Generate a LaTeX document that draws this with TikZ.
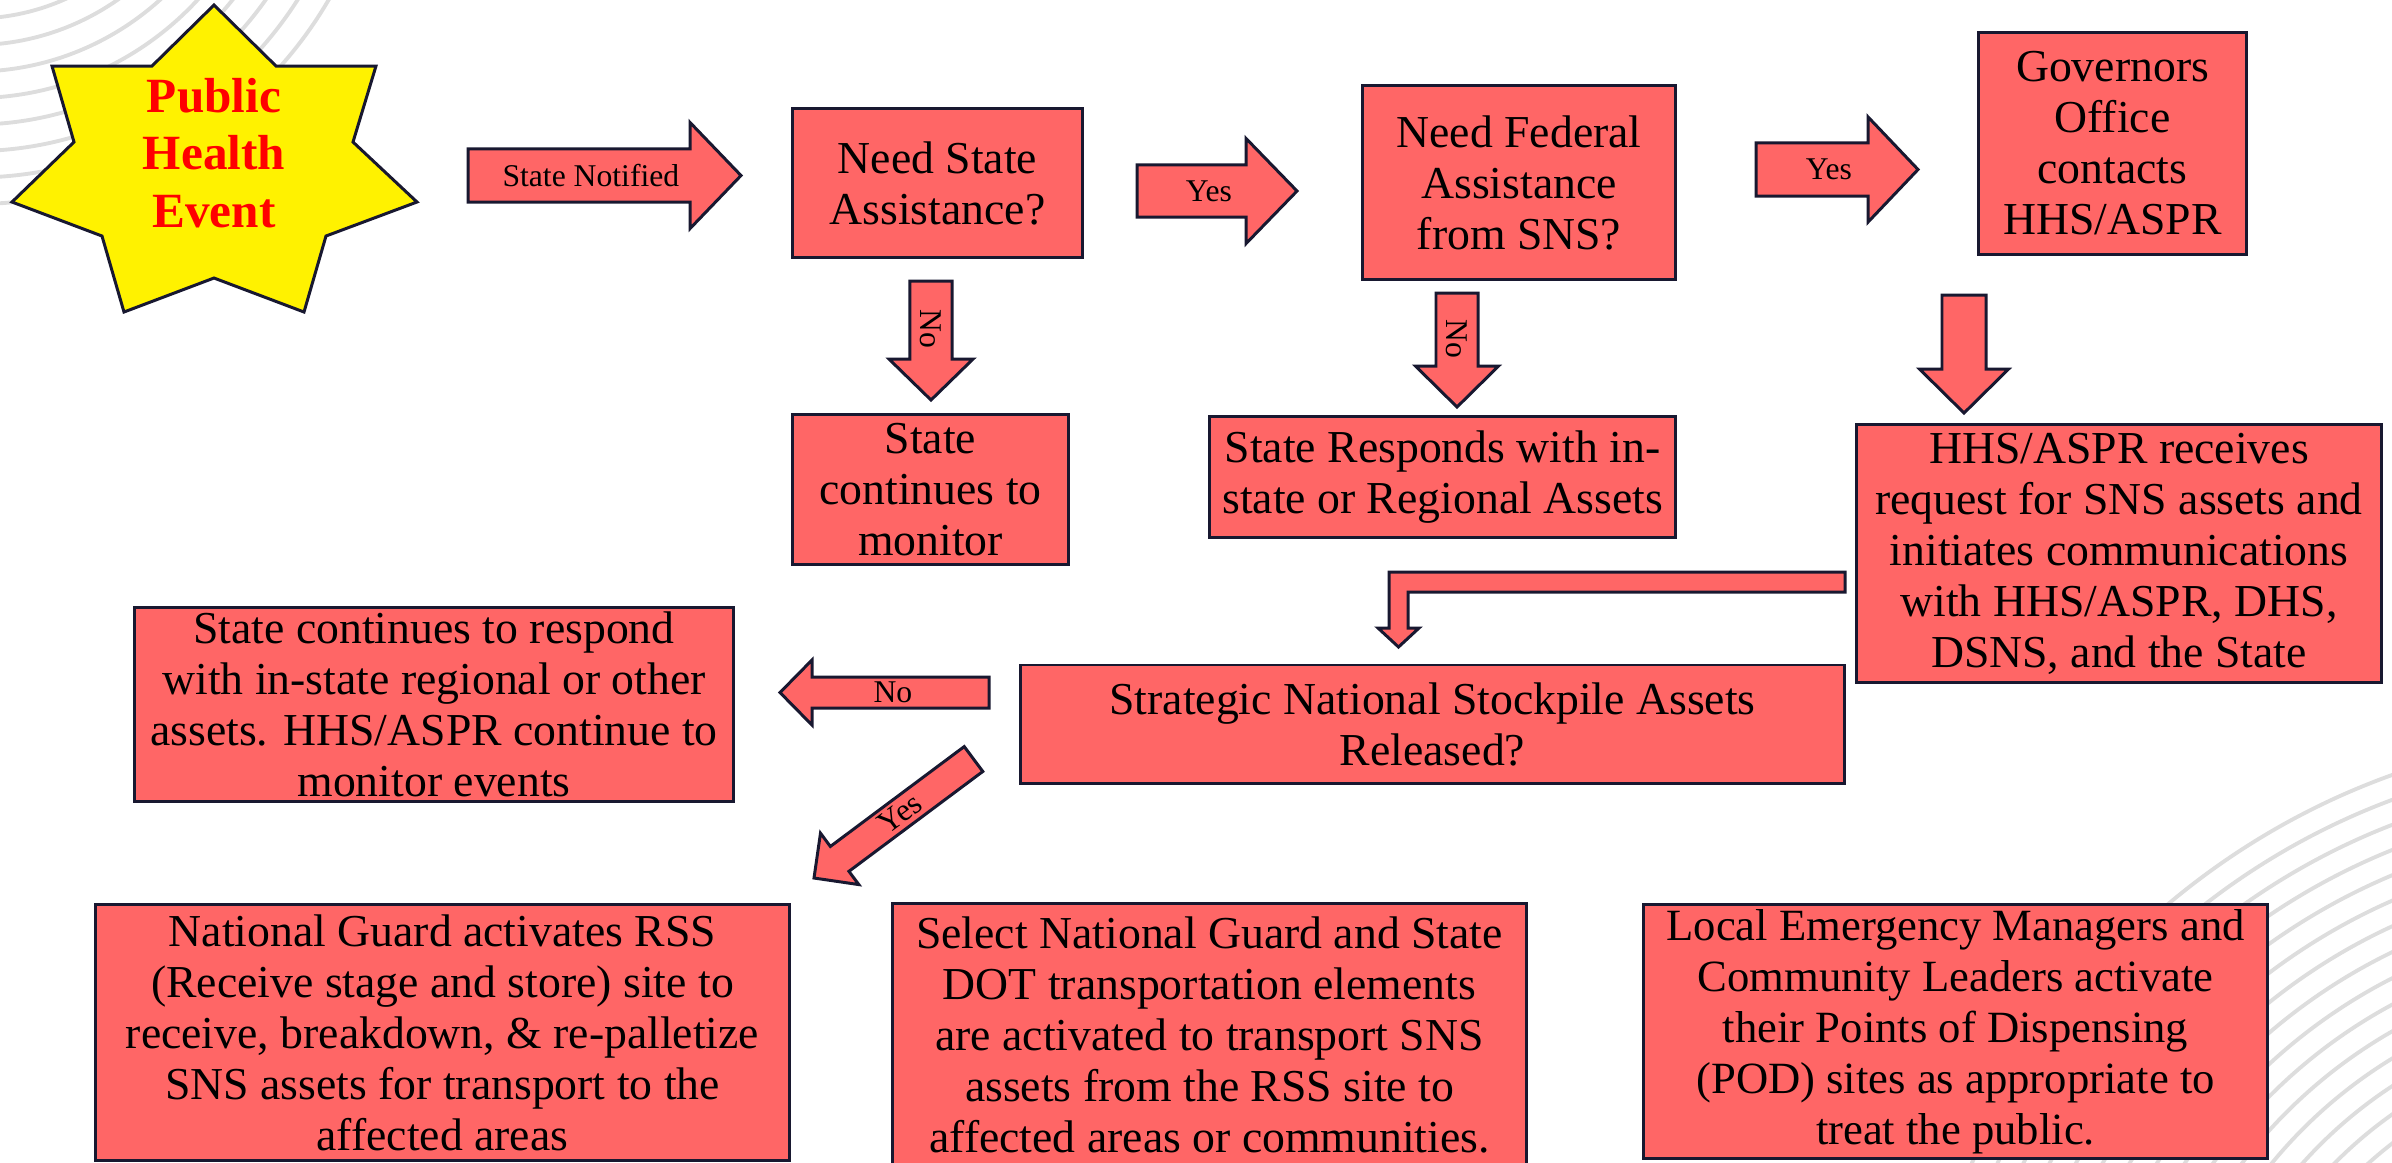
\documentclass[tikz,border=0pt]{standalone}
\usepackage{fontspec}
\setmainfont{Liberation Serif}
\usetikzlibrary{calc}

\definecolor{boxred}{RGB}{255,102,102}
\definecolor{boxedge}{RGB}{24,24,48}
\definecolor{arcgray}{RGB}{221,221,221}
\definecolor{starred}{RGB}{255,0,0}

\tikzset{
  flowbox/.style={draw=boxedge, fill=boxred, line width=0.85pt, align=center,
    inner sep=0pt, font=\fontsize{13}{14.5}\selectfont},
  blockarr/.style={draw=boxedge, fill=boxred, line width=0.85pt, line join=miter},
  arrlabel/.style={font=\fontsize{9}{10}\selectfont, inner sep=0pt},
  bgarc/.style={draw=arcgray, line width=1.1pt},
}

% block arrow: start, tip, shaft width, head width, head length (px)
\newcommand{\blockarrow}[5]{%
  \coordinate (bah) at ($(#2)!#5*0.01cm!(#1)$);
  \filldraw[blockarr] ($(#1)!#3*0.005cm!90:(#2)$)
    -- ($(bah)!#3*0.005cm!90:(#2)$)
    -- ($(bah)!#4*0.005cm!90:(#2)$)
    -- (#2)
    -- ($(bah)!#4*0.005cm!-90:(#2)$)
    -- ($(bah)!#3*0.005cm!-90:(#2)$)
    -- ($(#1)!#3*0.005cm!-90:(#2)$) -- cycle;}

\begin{document}
\begin{tikzpicture}[x=0.01cm, y=-0.01cm]
\useasboundingbox (0,0) rectangle (2392,1162);

% background arcs
\begin{scope}
  \clip (0,0) rectangle (2392,1162);
  \foreach \k [evaluate=\k as \r using 225.4+26.5*\k] in {0,...,7}
    \draw[bgarc] (-26.6,-206.8) circle[radius=\r];
  \foreach \k [evaluate=\k as \r using 406+23.36*\k] in {0,...,14}
    \draw[bgarc] (2640,1465) circle[radius=\r];
\end{scope}

% start event
\filldraw[draw=boxedge, fill=yellow, line width=0.85pt]
  (214,5) -- (276,66) -- (376,66) -- (353,142) -- (417,202) -- (326,236)
  -- (304,312) -- (214,278) -- (124,312) -- (102,236) -- (12,202)
  -- (74,142) -- (52,66) -- (152,66) -- cycle;
\node[font=\fontsize{14}{16.3}\selectfont\bfseries, text=starred, align=center, inner sep=0pt]
  (event) at (214,153) {Public\\Health\\Event};

% boxes
\node[flowbox, minimum width=2.89cm, minimum height=1.48cm] (needstate) at (937.5,183)
  {Need State\\Assistance?};
\node[flowbox, minimum width=3.12cm, minimum height=1.93cm] (needfed) at (1519,182.5)
  {Need Federal\\Assistance\\from SNS?};
\node[flowbox, minimum width=2.67cm, minimum height=2.21cm] (governors) at (2112.5,143.5)
  {Governors\\Office\\contacts\\HHS/ASPR};
\node[flowbox, minimum width=2.75cm, minimum height=1.49cm] (monitor) at (930.5,489.5)
  {State\\continues to\\monitor};
\node[flowbox, minimum width=4.65cm, minimum height=1.20cm] (responds) at (1442.5,477)
  {State Responds with in-\\state or Regional Assets};
\node[flowbox, minimum width=5.24cm, minimum height=2.57cm] (hhsrecv) at (2119,553.5)
  {HHS/ASPR receives\\request for SNS assets and\\initiates communications\\with HHS/ASPR, DHS,\\DSNS, and the State};
\node[flowbox, minimum width=8.23cm, minimum height=1.18cm] (released) at (1432.5,724)
  {Strategic National Stockpile Assets\\Released?};
\node[flowbox, minimum width=5.98cm, minimum height=1.93cm] (stillresp) at (434,704.5)
  {State continues to respond\\with in-state regional or other\\assets. HHS/ASPR continue to\\monitor events};
\node[flowbox, minimum width=6.93cm, minimum height=2.55cm] (natguard) at (442.5,1032.5)
  {National Guard activates RSS\\(Receive stage and store) site to\\receive, breakdown, \& re-palletize\\SNS assets for transport to the\\affected areas};
\node[flowbox, minimum width=6.33cm, minimum height=2.62cm] (select) at (1209.5,1035)
  {Select National Guard and State\\DOT transportation elements\\are activated to transport SNS\\assets from the RSS site to\\affected areas or communities.};
\node[flowbox, minimum width=6.23cm, minimum height=2.53cm, font=\fontsize{12.7}{14.5}\selectfont]
  (localem) at (1955.5,1031.5)
  {Local Emergency Managers and\\Community Leaders activate\\their Points of Dispensing\\(POD) sites as appropriate to\\treat the public.};

% arrow ends
\coordinate (notify-a) at (468,175.5);   \coordinate (notify-b) at (741,175.5);
\coordinate (yes1-a) at (1137,191);      \coordinate (yes1-b) at (1297,191);
\coordinate (yes2-a) at (1756,169.5);    \coordinate (yes2-b) at (1918,169.5);
\coordinate (no1-a) at (931,281);        \coordinate (no1-b) at (931,400);
\coordinate (no2-a) at (1457,293);       \coordinate (no2-b) at (1457,407);
\coordinate (gov-a) at (1964,295);       \coordinate (gov-b) at (1964,413);
\coordinate (no3-a) at (989,692.5);      \coordinate (no3-b) at (780,692.5);
\coordinate (yes3-a) at (973.5,759);     \coordinate (yes3-b) at (814,878);
\coordinate (bend-tip) at (1398.5,647);

% block arrows
\blockarrow{notify-a}{notify-b}{53}{106}{51}
\blockarrow{yes1-a}{yes1-b}{52}{105}{51}
\blockarrow{yes2-a}{yes2-b}{53}{105}{50}
\blockarrow{no1-a}{no1-b}{42}{84}{41}
\blockarrow{no2-a}{no2-b}{42}{83}{41}
\blockarrow{gov-a}{gov-b}{44}{89}{44}
\blockarrow{no3-a}{no3-b}{31}{65}{32}
\blockarrow{yes3-a}{yes3-b}{31}{64}{32}
\filldraw[blockarr] (1845,572) -- (1389,572) -- (1389,628) -- (1378,628) -- (bend-tip)
  -- (1419,628) -- (1408,628) -- (1408,592) -- (1845,592) -- cycle;

% arrow labels
\node[arrlabel] (notifylab) at ($(notify-a)!0.45!(notify-b)$) {State Notified};
\node[arrlabel] (yes1lab) at ($(yes1-a)!0.45!(yes1-b)$) {Yes};
\node[arrlabel] (yes2lab) at ($(yes2-a)!0.45!(yes2-b)$) {Yes};
\node[arrlabel, rotate=-90] (no1lab) at ($(no1-a)!0.4!(no1-b)$) {No};
\node[arrlabel, rotate=-90] (no2lab) at ($(no2-a)!0.4!(no2-b)$) {No};
\node[arrlabel] (no3lab) at ($(no3-a)!0.46!(no3-b)$) {No};
\node[arrlabel, rotate=36.7] (yes3lab) at ($(yes3-a)!0.46!(yes3-b)$) {Yes};
\end{tikzpicture}
\end{document}
